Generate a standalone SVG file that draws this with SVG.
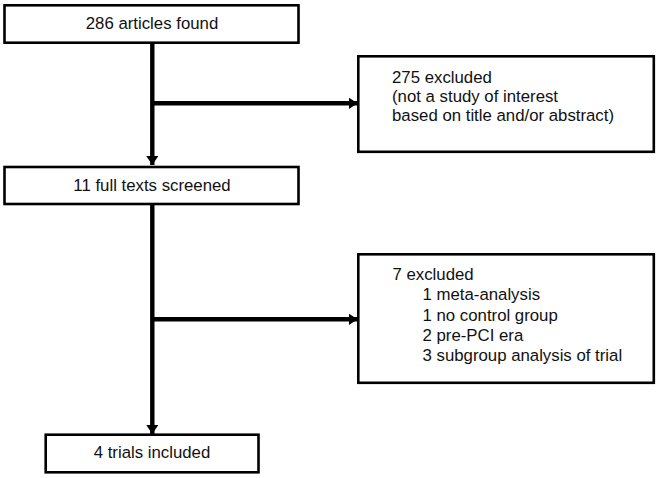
<svg xmlns="http://www.w3.org/2000/svg" width="659" height="478" viewBox="0 0 659 478">
<style>
.box{fill:#fff;stroke:#000;stroke-width:2.6}
.t{font-family:"Liberation Sans",Arial,sans-serif;font-size:16.8px;fill:#111}
.c{text-anchor:middle}
.ln{stroke:#000;stroke-width:4.4;fill:none}
</style>
<defs>
<marker id="ah" markerUnits="userSpaceOnUse" markerWidth="10" markerHeight="12" refX="9" refY="6" orient="auto">
<path d="M0,0 L9,6 L0,12 Z" fill="#000"/>
</marker>
</defs>
<rect width="659" height="478" fill="#fff"/>
<g id="connectors">
<path class="ln" d="M152.3,43 V165" marker-end="url(#ah)"/>
<path class="ln" d="M152.3,103.3 H357.5" marker-end="url(#ah)"/>
<path class="ln" d="M152.3,204 V434" marker-end="url(#ah)"/>
<path class="ln" d="M152.3,319.3 H357.5" marker-end="url(#ah)"/>
</g>
<g id="n1">
<rect class="box" x="4.5" y="5.3" width="294" height="37.4"/>
<text class="t c" x="152" y="28.5">286 articles found</text>
</g>
<g id="n2">
<rect class="box" x="358.3" y="56.3" width="295.5" height="95.5"/>
<text class="t" x="392" y="83.2">275 excluded</text>
<text class="t" x="392" y="102">(not a study of interest</text>
<text class="t" x="392" y="120.8">based on title and/or abstract)</text>
</g>
<g id="n3">
<rect class="box" x="4.5" y="167" width="294" height="37"/>
<text class="t c" x="152" y="190.5">11 full texts screened</text>
</g>
<g id="n4">
<rect class="box" x="45.7" y="434.7" width="212.8" height="37.6"/>
<text class="t c" x="152" y="458">4 trials included</text>
</g>
<g id="n5">
<rect class="box" x="358.3" y="254.3" width="295.5" height="128.5"/>
<text class="t" x="392.5" y="280">7 excluded</text>
<text class="t" x="422.5" y="300">1 meta-analysis</text>
<text class="t" x="422.5" y="320.5">1 no control group</text>
<text class="t" x="422.5" y="341">2 pre-PCI era</text>
<text class="t" x="422.5" y="361">3 subgroup analysis of trial</text>
</g>
</svg>
